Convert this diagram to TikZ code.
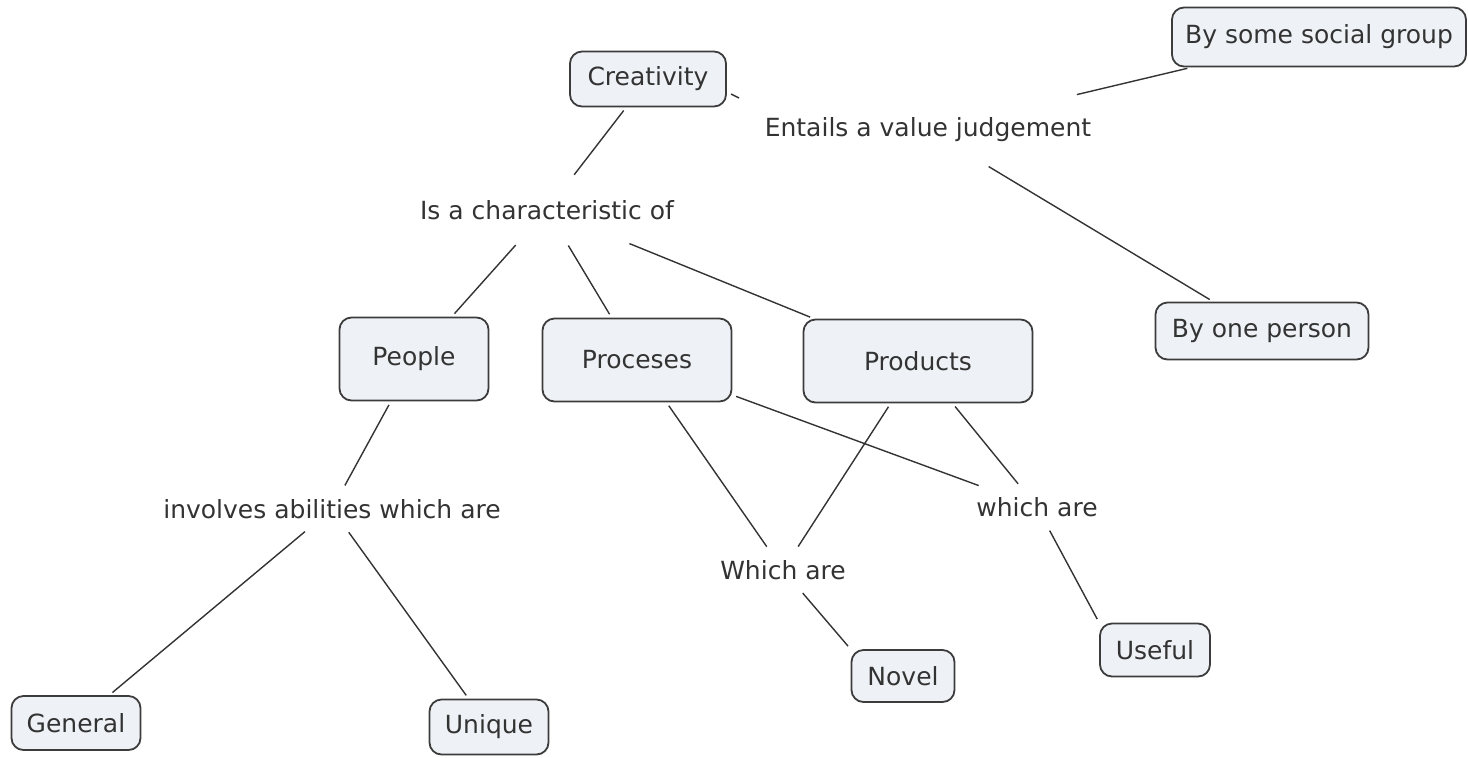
\documentclass[tikz,border=0pt]{standalone}
\usepackage{fontspec}
\setmainfont{DejaVu Sans}
\definecolor{boxfill}{HTML}{EEF2F6}
\definecolor{boxline}{HTML}{3C3C3C}
\definecolor{inkgray}{HTML}{333333}
\tikzset{
	concept/.style={draw=boxline, fill=boxfill, line width=0.9pt, rounded corners=6pt,
		text=inkgray, font=\fontsize{12.5}{15}\selectfont, inner sep=0pt},
	linkword/.style={text=inkgray, font=\fontsize{12.5}{15}\selectfont,
		inner xsep=4pt, inner ysep=5pt},
	link/.style={draw=inkgray, line width=0.7pt, shorten <=2pt, shorten >=2pt}
}
\begin{document}
\begin{tikzpicture}[x=0.5pt,y=-0.5pt]
	\useasboundingbox (0,0) rectangle (1468,757);
	% concepts
	\node [concept, minimum width=78pt, minimum height=27.5pt] (creativity) at (648,79) {Creativity};
	\node [concept, minimum width=147pt, minimum height=29.5pt] (social) at (1319,37) {By some social group};
	\node [concept, minimum width=106.5pt, minimum height=28.5pt] (oneperson) at (1262,331) {By one person};
	\node [concept, minimum width=74.5pt, minimum height=41.5pt] (people) at (414,359) {People};
	\node [concept, minimum width=94.5pt, minimum height=41.5pt] (processes) at (637,360) {Proceses};
	\node [concept, minimum width=114.5pt, minimum height=41.5pt] (products) at (918,361) {Products};
	\node [concept, minimum width=64.5pt, minimum height=27pt] (general) at (76,723) {General};
	\node [concept, minimum width=59.5pt, minimum height=27.5pt] (unique) at (489,727) {Unique};
	\node [concept, minimum width=51.5pt, minimum height=26pt] (novel) at (903,676) {Novel};
	\node [concept, minimum width=55pt, minimum height=26.5pt] (useful) at (1155,650) {Useful};
	% linking phrases
	\node [linkword, inner ysep=11pt] (entails) at (928,130) {Entails a value judgement};
	\node [linkword, inner ysep=11pt] (charof) at (547,210) {Is a characteristic of};
	\node [linkword] (abilities) at (332,509) {involves abilities which are};
	\node [linkword] (whichP) at (783,570) {Which are};
	\node [linkword] (whichQ) at (1037,507) {which are};
	% connectors
	\coordinate (tickA) at (731,94);
	\coordinate (tickB) at (739,98);
	\draw [link, shorten <=0pt, shorten >=0pt] (tickA) -- (tickB);
	\draw [link] (creativity) -- (charof);
	\draw [link] (entails) -- (social);
	\draw [link] (entails) -- (oneperson);
	\draw [link] (charof) -- (people);
	\draw [link] (charof) -- (processes);
	\draw [link] (charof) -- (products);
	\draw [link] (people) -- (abilities);
	\draw [link] (abilities) -- (general);
	\draw [link] (abilities) -- (unique);
	\draw [link] (processes) -- (whichP);
	\draw [link] (products) -- (whichP);
	\draw [link] (whichP) -- (novel.north west);
	\draw [link] (processes) -- (whichQ);
	\draw [link] (products) -- (whichQ);
	\draw [link] (whichQ) -- (useful.north west);
\end{tikzpicture}
\end{document}
